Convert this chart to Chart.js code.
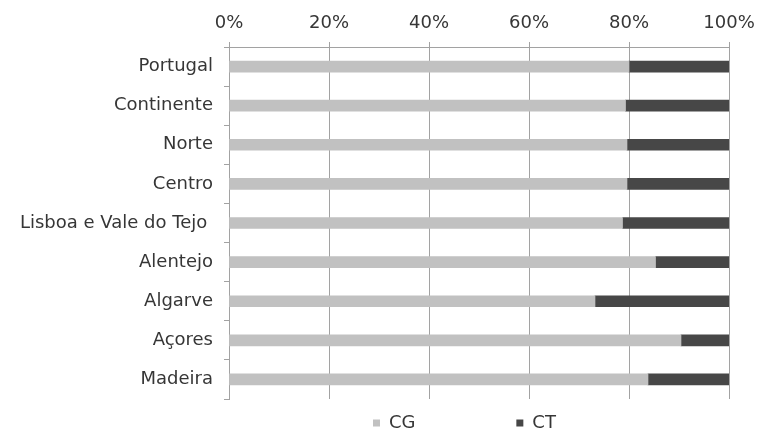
<!DOCTYPE html>
<html><head><meta charset="utf-8">
<script src="https://cdn.jsdelivr.net/npm/chart.js@4/dist/chart.umd.min.js"></script>
<style>html,body{margin:0;padding:0;background:#fff}#wrap{width:758px;height:428px}</style>
</head><body><div id="wrap"><canvas id="c" width="758" height="428"></canvas></div>
<script>
const categories = ["Portugal","Continente","Norte","Centro","Lisboa e Vale do Tejo ","Alentejo","Algarve","Açores","Madeira"];
const seriesNames = ["CG","CT"];
const cgValues = [80.0,79.3,79.6,79.6,78.7,85.3,73.2,90.4,83.8];
const ctValues = [20.0,20.7,20.4,20.4,21.3,14.7,26.8,9.6,16.2];
const tickValues = [0,20,40,60,80,100];

const FONT = {family:"DejaVu Sans", size:18};
const TXT = '#363636';
const GRID = '#a2a2a2';
const LEGEND_START = 373;

const legendShift = {
  id:'legendShift',
  afterLayout(chart){
    const lg = chart.legend;
    if (!lg || !lg.lineWidths) return;
    const p = lg.options.labels.padding;
    const lw = lg.lineWidths[0];
    const w = lg.right - lg.left;
    const sum = 2*LEGEND_START - p + lw;
    lg.left = (sum - w)/2;
    lg.right = lg.left + w;
  }
};

new Chart(document.getElementById('c'), {
  type:'bar',
  data:{
    labels:categories,
    datasets:[
      {label:seriesNames[0], data:cgValues, backgroundColor:'#c1c1c1', borderWidth:0, barThickness:11},
      {label:seriesNames[1], data:ctValues, backgroundColor:'#474747', borderWidth:0, barThickness:11}
    ]
  },
  plugins:[legendShift],
  options:{
    indexAxis:'y',
    responsive:false,
    animation:false,
    layout:{autoPadding:false, padding:{left:0,right:29,top:0,bottom:-14}},
    scales:{
      x:{
        position:'top', stacked:true, min:0, max:100,
        afterBuildTicks:s=>{ s.ticks = tickValues.map(v=>({value:v})); },
        ticks:{callback:v=>v+'%', color:TXT, font:FONT, padding:8, maxRotation:0, autoSkip:false},
        grid:{color:GRID, lineWidth:1, tickLength:5, drawTicks:true},
        border:{color:GRID},
        afterFit:s=>{ s.height = 47; s.paddingLeft = 0; s.paddingRight = 0; }
      },
      y:{
        stacked:true,
        ticks:{color:TXT, font:FONT, padding:11, autoSkip:false},
        grid:{drawOnChartArea:false, color:GRID, tickLength:5, offset:true},
        border:{color:GRID},
        afterFit:s=>{ s.width = 229; s.paddingTop = 0; s.paddingBottom = 0; }
      }
    },
    plugins:{
      tooltip:{enabled:false},
      legend:{
        position:'bottom',
        labels:{
          boxWidth:7, boxHeight:7, padding:15, color:TXT, font:FONT,
          generateLabels:chart=>Chart.defaults.plugins.legend.labels.generateLabels(chart)
            .map((l,i)=> i===0 ? Object.assign(l,{text:l.text+' '.repeat(15)}) : l)
        }
      }
    }
  }
});
</script></body></html>
